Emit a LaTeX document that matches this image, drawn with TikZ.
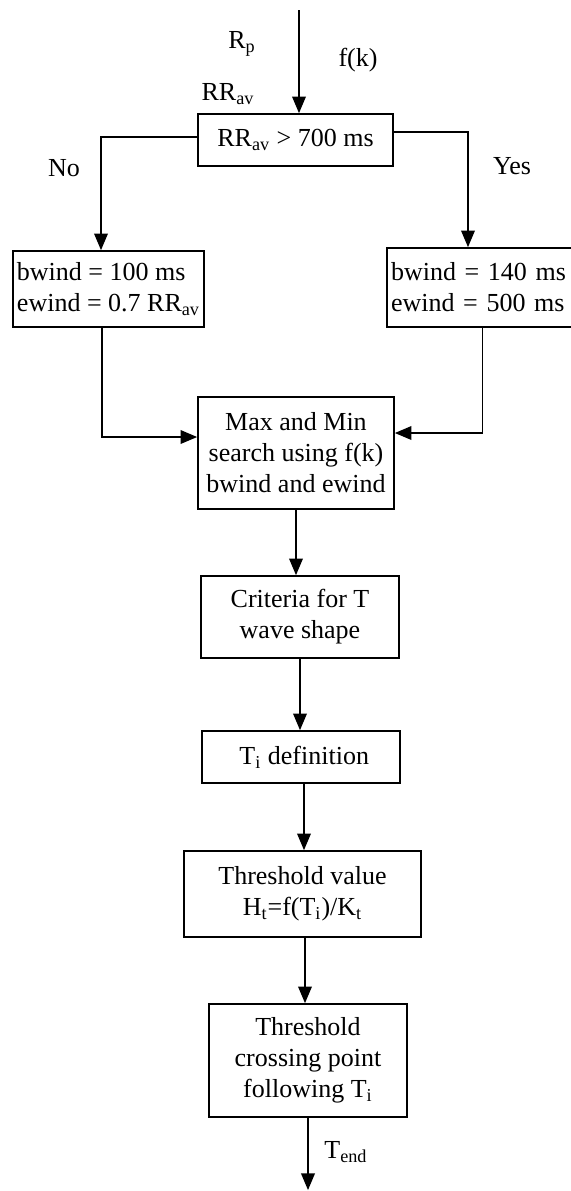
\documentclass[tikz,border=0pt]{standalone}
\usepackage{fontspec}
\setmainfont{Liberation Serif}
\usetikzlibrary{arrows}
\tikzset{
    box/.style={draw,line width=0.9pt,inner sep=2pt,align=center},
    winbox/.style={box,align=left},
    lbl/.style={inner sep=0pt}
}

\begin{document}
\begin{tikzpicture}[x=0.5pt,y=-0.5pt,line width=0.9pt,>=triangle 45,
    font=\fontsize{13}{15.5}\selectfont]
    \useasboundingbox (0,0) rectangle (571,1191);
    % boxes
    \node[box,minimum width=97.5pt,minimum height=26pt] (dec) at (295.5,140) {RR\textsubscript{av} > 700 ms};
    \node[winbox,minimum width=95.5pt,minimum height=38pt] (lbox) at (108.5,289) {bwind = 100 ms\\ewind = 0.7 RR\textsubscript{av}};
    \node[winbox,text width=102.5pt,minimum height=39.5pt] (rbox) at (493.5,287.5) {bwind = 140 ms\\ewind = 500 ms};
    \node[box,minimum width=98pt,minimum height=56pt] (max) at (296,453) {Max and Min\\search using f(k)\\bwind and ewind};
    \node[box,minimum width=99pt,minimum height=41pt] (crit) at (300,617) {Criteria for T\\wave shape};
    \node[box,minimum width=99pt,minimum height=26pt] (ti) at (301,757) {\ T\textsubscript{i} definition};
    \node[box,minimum width=118.5pt,minimum height=43pt] (thv) at (302.5,894) {Threshold value\\H\textsubscript{t}=f(T\textsubscript{i})/K\textsubscript{t}};
    \node[box,minimum width=99pt,minimum height=56.5pt] (cross) at (308,1060.5) {Threshold\\crossing point\\following T\textsubscript{i}};
    % labels
    \node[lbl] (rp) at (242,44) {R\textsubscript{p}};
    \node[lbl] (fk) at (358,60) {f(k)};
    \node[lbl] (rrav) at (228,94) {RR\textsubscript{av}};
    \node[lbl] (no) at (64,168) {No};
    \node[lbl] (yes) at (512,166) {Yes};
    \node[lbl] (tend) at (346,1152) {T\textsubscript{end}};
    \coordinate (in) at (299,10);
    \coordinate (out) at (308,1190);
    % connectors
    \draw[->] (in) -- (in |- dec.north);
    \draw[->] ([yshift=1.5pt]dec.west) -| ([xshift=-3.75pt]lbox.north);
    \draw[->] ([yshift=4pt]dec.east) -| ([xshift=-12.75pt]rbox.north);
    \draw[->] ([xshift=-3.25pt]lbox.south) |- ([yshift=8pt]max.west);
    \draw[->] ([xshift=-5.5pt]rbox.south) |- ([yshift=10pt]max.east);
    \draw[->] (max.south) -- (max.south |- crit.north);
    \draw[->] (crit.south) -- (crit.south |- ti.north);
    \draw[->] ([xshift=1.5pt]ti.south) -- ([xshift=1.5pt]ti.south |- thv.north);
    \draw[->] ([xshift=1.25pt]thv.south) -- ([xshift=1.25pt]thv.south |- cross.north);
    \draw[->] (cross.south) -- (out);
\end{tikzpicture}
\end{document}
